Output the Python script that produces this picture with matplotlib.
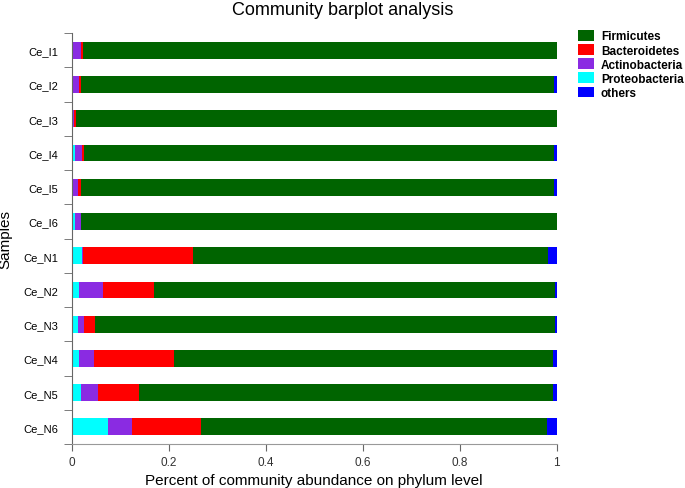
import matplotlib
matplotlib.use("Agg")
import matplotlib.pyplot as plt
import numpy as np

plt.rcParams["font.family"] = ["Liberation Sans", "DejaVu Sans"]

samples = ["Ce_I1", "Ce_I2", "Ce_I3", "Ce_I4", "Ce_I5", "Ce_I6",
           "Ce_N1", "Ce_N2", "Ce_N3", "Ce_N4", "Ce_N5", "Ce_N6"]

# stacked left to right: Proteobacteria, Actinobacteria, Bacteroidetes, Firmicutes, others
proteobacteria = [0.003, 0.003, 0.003, 0.006, 0.003, 0.006,
                  0.022, 0.016, 0.012, 0.016, 0.019, 0.075]
actinobacteria = [0.016, 0.011, 0.001, 0.015, 0.009, 0.013,
                  0.001, 0.049, 0.013, 0.030, 0.035, 0.049]
bacteroidetes = [0.004, 0.005, 0.005, 0.004, 0.007, 0.001,
                 0.227, 0.104, 0.024, 0.165, 0.085, 0.143]
others = [0.0, 0.006, 0.0, 0.006, 0.006, 0.0,
          0.017, 0.004, 0.004, 0.008, 0.007, 0.019]
firmicutes = [1 - p - a - b - o for p, a, b, o in
              zip(proteobacteria, actinobacteria, bacteroidetes, others)]

series = [
    ("Proteobacteria", proteobacteria, "#00FFFF"),
    ("Actinobacteria", actinobacteria, "#8A2BE2"),
    ("Bacteroidetes", bacteroidetes, "#FF0000"),
    ("Firmicutes", firmicutes, "#006400"),
    ("others", others, "#0000FF"),
]
legend_order = ["Firmicutes", "Bacteroidetes", "Actinobacteria", "Proteobacteria", "others"]

fig = plt.figure(figsize=(6.85, 4.89), dpi=100)
ax = fig.add_axes([0.1047, 0.090, 0.708, 0.840])

y = np.arange(len(samples))
left = np.zeros(len(samples))
handles = {}
for name, vals, color in series:
    vals = np.array(vals)
    h = ax.barh(y, vals, left=left, height=0.49, color=color, edgecolor="none", label=name)
    handles[name] = h
    left += vals

ax.set_ylim(len(samples) - 0.5, -0.5)
ax.set_xlim(0, 1)
ax.set_yticks(y)
ax.set_yticklabels(samples, fontsize=8)
ax.set_yticks(np.arange(-0.5, len(samples), 1), minor=True)
ax.tick_params(axis="y", which="major", length=0, pad=10)
ax.tick_params(axis="y", which="minor", length=6, color="#666666")
ax.set_xticks([0, 0.2, 0.4, 0.6, 0.8, 1])
ax.set_xticklabels(["0", "0.2", "0.4", "0.6", "0.8", "1"], fontsize=8.5, color="#333333")
ax.tick_params(axis="x", length=5, color="#666666", pad=4)

for s in ["top", "right"]:
    ax.spines[s].set_visible(False)
ax.spines["left"].set_color("#666666")
ax.spines["bottom"].set_color("#999999")

ax.set_xlabel("Percent of community abundance on phylum level", fontsize=11, labelpad=3)
ax.set_ylabel("Samples", fontsize=11)
ax.yaxis.set_label_coords(-0.122, 0.5)
fig.suptitle("Community barplot analysis", fontsize=13, y=0.995)

leg = fig.legend([handles[n] for n in legend_order], legend_order,
                 loc="upper left", bbox_to_anchor=(0.828, 0.958), frameon=False,
                 handlelength=1.4, handleheight=1.0, labelspacing=0.15,
                 handletextpad=0.55, prop={"weight": "bold", "size": 8.5})

fig.savefig("out.png", dpi=100)
